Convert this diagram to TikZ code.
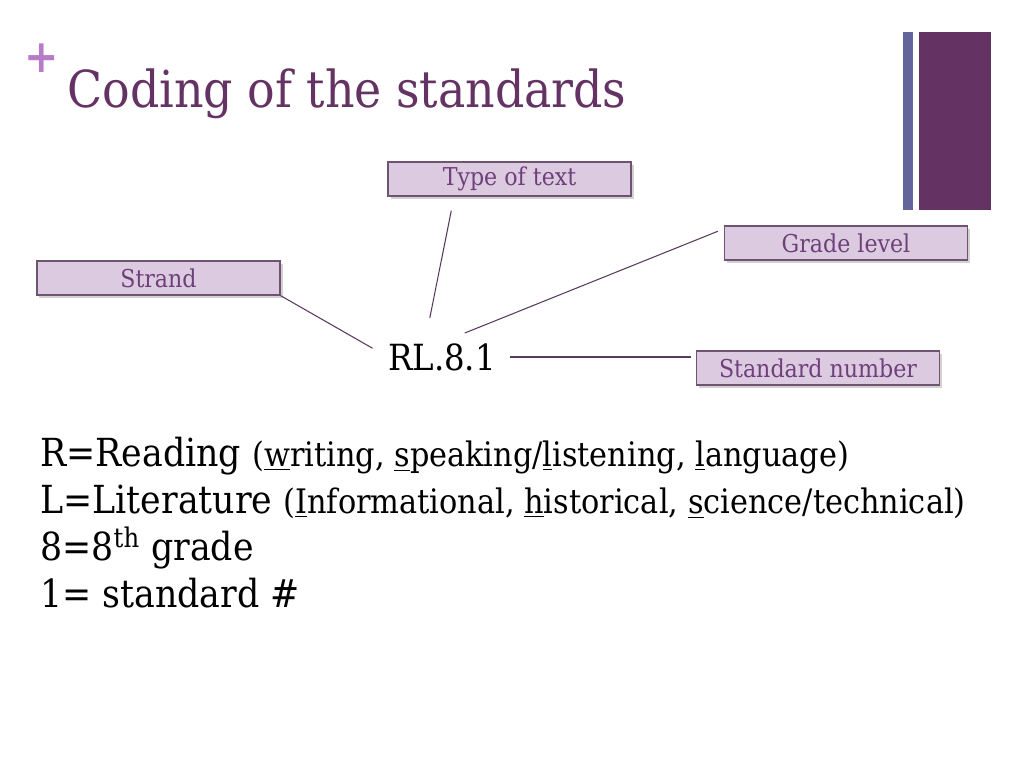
\documentclass[tikz,border=0pt]{standalone}
\usepackage{fontspec}
\setmainfont{DejaVu Serif Condensed}
\usepackage{tikz}
\usetikzlibrary{positioning, calc, shadows}
\definecolor{plumdark}{HTML}{643364}
\definecolor{plumtext}{HTML}{6E3F7A}
\definecolor{plumline}{HTML}{5A3A5E}
\definecolor{plumfill}{HTML}{DCCBE0}
\definecolor{plumedge}{HTML}{6E5470}
\definecolor{slateblue}{HTML}{63649A}
\definecolor{orchid}{HTML}{B77CC7}
\tikzstyle{link}=[line width=0.6pt, color=plumline]
\newcommand{\asidefont}{\fontsize{19.2}{22}\selectfont}

\begin{document}
\begin{tikzpicture}[x=0.2mm, y=-0.2mm,
  labelbox/.style={rectangle, draw=plumedge, fill=plumfill, thick,
                   minimum width=48.6mm, minimum height=6.8mm, inner sep=0pt,
                   text=plumtext, font=\fontsize{14}{16}\selectfont,
                   drop shadow={shadow xshift=0.5mm, shadow yshift=-0.6mm, opacity=0.35}},
  defline/.style={anchor=base west, inner sep=0pt, font=\fontsize{22}{24}\selectfont}
]
\useasboundingbox[fill=white] (0,0) rectangle (1024,768);

% title bar
\node[text=orchid, font=\bfseries\fontsize{26}{26}\selectfont, inner sep=0pt] (plus) at (42,58) {+};
\node[anchor=base west, inner sep=0pt, text=plumdark,
      font=\fontsize{29}{32}\selectfont] (title) at (67,108) {Coding of the standards};
\fill[slateblue] (903,32) rectangle (913,210);
\fill[plumdark]  (919,32) rectangle (991,210);

% the code and its parts
\node[inner sep=0pt, font=\fontsize{20.5}{22}\selectfont] (code) at (442,357) {RL.8.1};
\node[labelbox] (typetext) at (509.5,179) {Type of text};
\node[labelbox] (strand)   at (158.5,278) {Strand};
\node[labelbox] (grade)    at (846,243)   {Grade level};
\node[labelbox] (stdnum)   at (818,368)   {Standard number};

\draw[link, shorten >=10pt] (strand.south east) -- (code.west);
\draw[link] ($(typetext.south west)+(64,14)$) -- ($(code.north west)+(42,-25)$);
\draw[link] ($(grade.north west)+(-6,6)$) -- ($(code.north west)+(77,-10)$);
\draw[link, shorten <=8pt, shorten >=3pt] (code.east) -- (stdnum.west |- code.east);

% legend
\node[defline] (defR) at (40,467) {R=Reading {\asidefont(\underline{w}riting, \underline{s}peaking/\underline{l}istening, \underline{l}anguage)}};
\node[defline] (defL) at (40,514) {L=Literature {\asidefont(\underline{I}nformational, \underline{h}istorical, \underline{s}cience/technical)}};
\node[defline] (def8) at (40,561) {8=8\textsuperscript{th} grade};
\node[defline] (def1) at (40,608) {1= standard \#};
\end{tikzpicture}
\end{document}
